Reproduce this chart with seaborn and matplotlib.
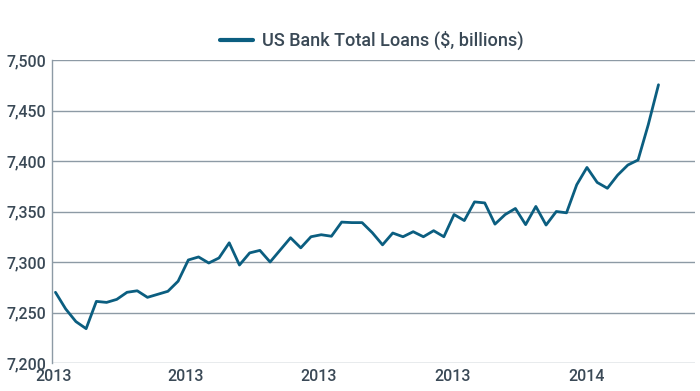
import matplotlib
matplotlib.use("Agg")
import matplotlib.pyplot as plt
import matplotlib.dates as mdates
import matplotlib.ticker as mticker
import numpy as np
import pandas as pd
import seaborn as sns

# ---- data (weekly, Wednesdays) ----
start_date = "2013-01-02"
n_weeks = 60
loans = [
    7270, 7253.5, 7241, 7234, 7261, 7260, 7263, 7270, 7271.5, 7265,
    7268, 7271, 7281, 7302, 7305, 7299, 7304, 7319, 7297, 7309,
    7311.5, 7300, 7312, 7324, 7314, 7325, 7327, 7325.5, 7339.5, 7339,
    7339, 7329, 7317, 7328.7, 7325, 7330, 7325, 7331, 7325, 7347,
    7341, 7359.5, 7358.5, 7337.5, 7347, 7353, 7337, 7355, 7336.6, 7350,
    7348.7, 7376.5, 7393.6, 7378.8, 7373, 7386, 7396, 7401, 7436, 7475.5,
]
series_name = "US Bank Total Loans ($, billions)"
y_ticks = [7200, 7250, 7300, 7350, 7400, 7450, 7500]
x_tick_dates = ["2013-01-01", "2013-04-01", "2013-07-01", "2013-10-01", "2014-01-01"]

dates = pd.date_range(start_date, periods=n_weeks, freq="7D")
df = pd.DataFrame({"date": dates, "value": loans, "series": series_name})

sns.set_theme(style="white")
plt.rcParams["font.family"] = ["Roboto", "DejaVu Sans"]

line_color = "#0b5e80"
text_color = "#3a4956"
grid_color = "#8d9aa5"

fig = plt.figure(figsize=(7.0, 3.91), dpi=100)
ax = fig.add_axes([52 / 700, 28 / 391, 643 / 700, 303 / 391])

sns.lineplot(data=df, x="date", y="value", hue="series", palette=[line_color],
             linewidth=2.0, ax=ax, legend=True)

ax.set_ylim(7200, 7500)
ax.set_yticks(y_ticks)
ax.yaxis.set_major_formatter(mticker.FuncFormatter(lambda v, p: f"{int(v):,}"))
ax.set_xlim(pd.Timestamp("2012-12-30 15:00"), pd.Timestamp("2014-03-16"))
ax.set_xticks(pd.to_datetime(x_tick_dates))
ax.xaxis.set_major_formatter(mdates.DateFormatter("%Y"))

ax.grid(axis="y", color=grid_color, linewidth=1.0)
ax.grid(axis="x", visible=False)
ax.set_axisbelow(True)
for s in ["top", "right", "bottom"]:
    ax.spines[s].set_visible(False)
ax.spines["left"].set_color(grid_color)
ax.spines["left"].set_linewidth(1.0)

ax.tick_params(axis="both", length=0, labelsize=11.5, labelcolor=text_color)
ax.tick_params(axis="y", pad=4)
ax.tick_params(axis="x", pad=4)
for lbl in ax.get_xticklabels() + ax.get_yticklabels():
    lbl.set_fontweight("medium")
ax.set_xlabel("")
ax.set_ylabel("")

handles, labels = ax.get_legend_handles_labels()
ax.get_legend().remove()
leg = fig.legend(handles, labels, loc="center", bbox_to_anchor=(0.531, 0.896),
                 frameon=False, prop={"size": 13, "weight": "medium"},
                 handlelength=1.8, handletextpad=0.5)
for t in leg.get_texts():
    t.set_color(text_color)
for h in leg.get_lines():
    h.set_linewidth(3.0)

fig.savefig("out.png", dpi=100)
